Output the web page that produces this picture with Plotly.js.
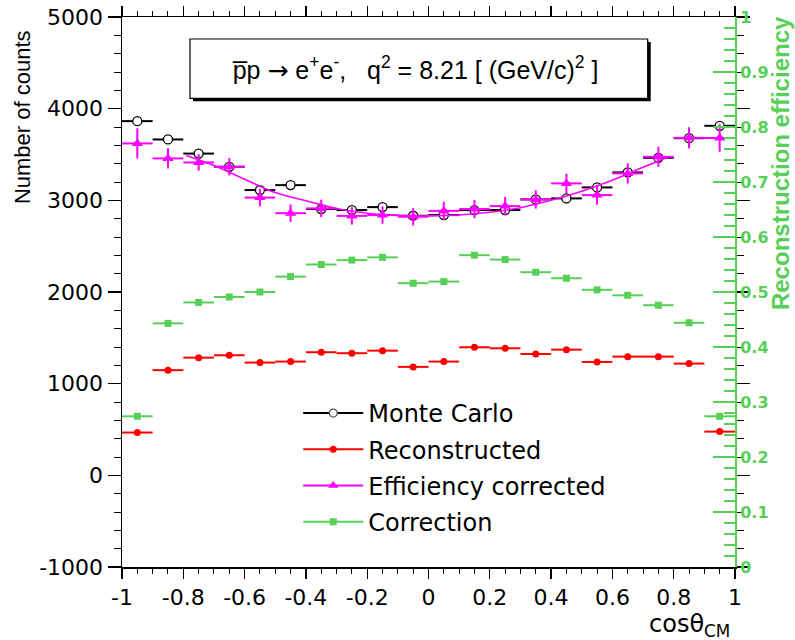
<!DOCTYPE html>
<html><head><meta charset="utf-8">
<script src="https://cdn.plot.ly/plotly-3.0.1.min.js"></script>
<style>html,body{margin:0;padding:0;background:#fff}#chart{width:795px;height:640px}</style>
</head><body><div id="chart"></div>
<script>
// ---- data ----
const binCenters = [-0.95,-0.85,-0.75,-0.65,-0.55,-0.45,-0.35,-0.25,-0.15,-0.05,0.05,0.15,0.25,0.35,0.45,0.55,0.65,0.75,0.85,0.95];
const binHalfWidth = 0.05;
const monteCarlo = [3864,3664,3510,3366,3112,3166,2905,2894,2926,2832,2839,2894,2894,3010,3021,3141,3305,3464,3678,3813];
const reconstructed = [467,1147,1284,1310,1230,1241,1343,1332,1360,1183,1241,1397,1386,1324,1371,1237,1295,1295,1219,477];
const effCorrected = [3621,3457,3413,3366,3030,2860,2912,2830,2839,2821,2885,2905,2937,3010,3185,3057,3294,3475,3682,3680];
const effCorrectedErr = [165,110,90,95,95,95,95,95,95,95,100,100,100,100,105,105,110,110,115,150];
const correction = [0.274,0.443,0.481,0.491,0.500,0.528,0.550,0.558,0.563,0.516,0.519,0.567,0.559,0.536,0.525,0.504,0.494,0.476,0.444,0.274];
const fitX = [-0.79,-0.7,-0.6,-0.5,-0.4,-0.3,-0.2,-0.1,0,0.1,0.2,0.3,0.4,0.5,0.6,0.7,0.78];
const fitY = [3490,3380,3230,3085,2995,2910,2860,2835,2830,2840,2870,2920,3000,3100,3220,3360,3470];
const xTickVals = [-1,-0.8,-0.6,-0.4,-0.2,0,0.2,0.4,0.6,0.8,1];
const xTickText = ['-1','-0.8','-0.6','-0.4','-0.2','0','0.2','0.4','0.6','0.8','1'];
const yTickVals = [-1000,0,1000,2000,3000,4000,5000];
const yTickText = ['-1000','0','1000','2000','3000','4000','5000'];
const seriesNames = ['Monte Carlo','Reconstructed','Efficiency corrected','Correction'];

const GREEN = '#58d058', RED = '#ff0000', MAG = '#ff00ff', BLK = '#000000';
const FONT = 'Liberation Sans, Arial, sans-serif';
const WIDE = 'DejaVu Sans, sans-serif';

const errX = c => ({type:'constant', value:binHalfWidth, width:0, thickness:2, color:c});

const traces = [
  {x:binCenters, y:correction, yaxis:'y2', type:'scatter', mode:'markers', showlegend:false,
   marker:{symbol:'square', size:7, color:GREEN}, error_x:errX(GREEN)},
  {x:binCenters, y:reconstructed, type:'scatter', mode:'markers', showlegend:false,
   marker:{symbol:'circle', size:7, color:RED}, error_x:errX(RED)},
  {x:binCenters, y:monteCarlo, type:'scatter', mode:'markers', showlegend:false,
   marker:{symbol:'circle', size:9, color:'#ffffff', line:{color:BLK, width:1.3}}, error_x:errX(BLK)},
  {x:binCenters, y:effCorrected, type:'scatter', mode:'markers', showlegend:false,
   marker:{symbol:'triangle-up', size:10, color:MAG}, error_x:errX(MAG),
   error_y:{type:'data', array:effCorrectedErr, width:0, thickness:2, color:MAG}},
  {x:fitX, y:fitY, type:'scatter', mode:'lines', showlegend:false,
   line:{color:MAG, width:1.6, shape:'spline'}},
  // legend entries
  {x:[null], y:[null], type:'scatter', mode:'lines+markers', name:seriesNames[0], legendgroup:'a',
   line:{color:BLK, width:2}, marker:{symbol:'circle', size:8, color:'#ffffff', line:{color:'#555', width:1.2}}},
  {x:[null], y:[null], type:'scatter', mode:'lines+markers', name:seriesNames[1], legendgroup:'b',
   line:{color:RED, width:2}, marker:{symbol:'circle', size:7, color:RED}},
  {x:[null], y:[null], type:'scatter', mode:'lines+markers', name:seriesNames[2], legendgroup:'c',
   line:{color:MAG, width:2}, marker:{symbol:'triangle-up', size:9, color:MAG}},
  {x:[null], y:[null], type:'scatter', mode:'lines+markers', name:seriesNames[3], legendgroup:'d',
   line:{color:GREEN, width:2}, marker:{symbol:'square', size:7, color:GREEN}}
];

const bx0 = 0.1109, bx1 = 0.8576, by0 = 0.8522, by1 = 0.96, sdx = 0.0049, sdy = 0.0055;

const layout = {
  width:795, height:640,
  margin:{l:122, r:60, t:17, b:73},
  paper_bgcolor:'#ffffff', plot_bgcolor:'#ffffff',
  font:{family:FONT, color:BLK},
  showlegend:true,
  legend:{x:0.2875, y:0.32, xanchor:'left', yanchor:'top', bgcolor:'rgba(0,0,0,0)', borderwidth:0,
          font:{size:24, family:WIDE, color:BLK}, traceorder:'grouped', tracegroupgap:2, itemwidth:60},
  xaxis:{range:[-1,1], tickmode:'array', tickvals:xTickVals, ticktext:xTickText,
         ticks:'outside', ticklen:10, tickwidth:1.3, tickcolor:BLK,
         showline:true, linecolor:BLK, linewidth:1.5, mirror:'ticks', zeroline:false, showgrid:false,
         tickfont:{size:22, family:WIDE, color:BLK},
         minor:{tickmode:'linear', tick0:-1, dtick:0.05, ticks:'outside', ticklen:5, tickcolor:BLK, tickwidth:1}},
  yaxis:{range:[-1000,5000], tickmode:'array', tickvals:yTickVals, ticktext:yTickText,
         ticks:'outside', ticklen:13, tickwidth:1.3, tickcolor:BLK,
         showline:true, linecolor:BLK, linewidth:1.5, mirror:'ticks', zeroline:false, showgrid:false,
         tickfont:{size:22, family:WIDE, color:BLK},
         minor:{tickmode:'linear', tick0:0, dtick:200, ticks:'outside', ticklen:7, tickcolor:BLK, tickwidth:1}},
  yaxis2:{range:[0,1], overlaying:'y', side:'right', dtick:0.1, tick0:0,
          ticks:'inside', ticklen:22, tickwidth:1.5, tickcolor:GREEN,
          showline:true, linecolor:GREEN, linewidth:2, zeroline:false, showgrid:false,
          tickfont:{size:16, family:WIDE, color:GREEN, weight:'bold'},
          minor:{tickmode:'linear', tick0:0, dtick:0.02, ticks:'inside', ticklen:11, tickcolor:GREEN, tickwidth:1.5}},
  shapes:[
    {type:'rect', xref:'paper', yref:'paper', x0:bx0+sdx, x1:bx1+sdx, y0:by0-sdy, y1:by1-sdy,
     fillcolor:BLK, line:{width:0}, layer:'above'},
    {type:'rect', xref:'paper', yref:'paper', x0:bx0, x1:bx1, y0:by0, y1:by1,
     fillcolor:'#ffffff', line:{color:BLK, width:1.2}, layer:'above'}
  ],
  annotations:[
    {xref:'paper', yref:'paper', x:0.478, y:0.907, xanchor:'center', yanchor:'middle', showarrow:false,
     text:'p\u0305p <span style="font-family:DejaVu Sans">\u2192</span> e<sup>+</sup>e<sup>-</sup>,\u00a0\u00a0\u00a0q<sup>2</sup> = 8.21 [ (GeV/c)<sup>2</sup> ]',
     font:{size:25, family:FONT, color:BLK}},
    {xref:'paper', yref:'paper', x:-0.163, y:0.98, xanchor:'center', yanchor:'top', textangle:-90, showarrow:false,
     text:'Number of counts', font:{size:22, family:FONT, color:BLK}},
    {xref:'paper', yref:'paper', x:1.074, y:1.006, xanchor:'center', yanchor:'top', textangle:-90, showarrow:false,
     text:'Reconstruction efficiency', font:{size:24, family:FONT, color:GREEN, weight:'bold'}},
    {xref:'paper', yref:'paper', x:0.995, y:-0.107, xanchor:'right', yanchor:'middle', showarrow:false,
     text:'cos\u03b8<sub>CM</sub>', font:{size:24, family:WIDE, color:BLK}}
  ]
};

Plotly.newPlot('chart', traces, layout, {staticPlot:true, displayModeBar:false});
</script></body></html>
